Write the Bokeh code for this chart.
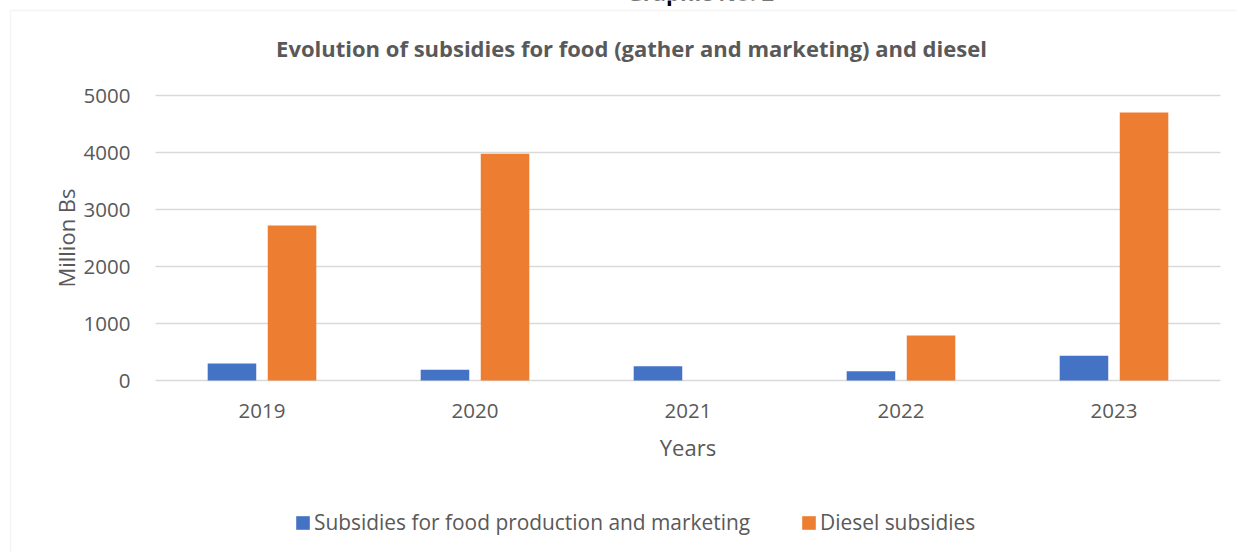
import numpy as np
from bokeh.plotting import figure
from bokeh.models import (Range1d, Legend, LegendItem, Label, BoxAnnotation,
                          ColumnDataSource, FixedTicker)
from bokeh.embed import file_html
from bokeh.resources import INLINE

years = ["2019", "2020", "2021", "2022", "2023"]
food = [300, 187, 251, 163, 433]
diesel = [2720, 3980, 0, 790, 4700]
y_ticks = [0, 1000, 2000, 3000, 4000, 5000]
series_names = ["Subsidies for food production and marketing", "Diesel subsidies"]
series_colors = ["#4472C4", "#ED7D31"]
chart_title = "Evolution of subsidies for food (gather and marketing) and diesel"
top_caption = "Graphic No. 2"
x_title = "Years"
y_title = "Million Bs"

FONT = "Open Sans"
TXT = "#595959"
GRID = "#d9d9d9"

# pixel geometry of the plot area inside the full canvas
W, H = 1237, 552
FL, FR, FT, FB = 155, 1220, 95, 380
ppu_x = (FR - FL) / len(years)
ppu_y = (FB - FT) / float(y_ticks[-1])
def ux(px):
    return (px - FL) / ppu_x
def uy(py):
    return (FB - py) / ppu_y

xpos = np.arange(len(years)) + 0.5
bw = 0.228
off = 0.141

src = ColumnDataSource(dict(x_food=xpos - off, x_diesel=xpos + off,
                            food=food, diesel=diesel))

p = figure(width=W, height=H, x_range=Range1d(ux(0), ux(W)),
           y_range=Range1d(uy(H), uy(0)), output_backend="svg",
           toolbar_location=None, min_border=0, min_border_left=0,
           min_border_right=0, min_border_top=0, min_border_bottom=0)
p.outline_line_color = None
p.background_fill_color = "white"
p.border_fill_color = "white"
p.xgrid.visible = False
p.ygrid.visible = False

# gridlines of the value axis
p.segment(x0=[0] * len(y_ticks), x1=[len(years)] * len(y_ticks),
          y0=y_ticks, y1=y_ticks, line_color=GRID, line_width=1.3)

r1 = p.vbar(x="x_food", top="food", width=bw, source=src,
            fill_color=series_colors[0], line_color=None)
r2 = p.vbar(x="x_diesel", top="diesel", width=bw, source=src,
            fill_color=series_colors[1], line_color=None)

for ax in (p.xaxis[0], p.yaxis[0]):
    ax.axis_line_color = None
    ax.major_tick_line_color = None
    ax.minor_tick_line_color = None
    ax.major_label_text_font = FONT
    ax.major_label_text_font_size = "20.5px"
    ax.major_label_text_color = TXT
    ax.axis_label_text_font = FONT
    ax.axis_label_text_font_size = "22px"
    ax.axis_label_text_font_style = "normal"
    ax.axis_label_text_color = TXT

p.yaxis.fixed_location = 0
p.yaxis.bounds = (y_ticks[0], y_ticks[-1])
p.yaxis.ticker = FixedTicker(ticks=y_ticks)
p.yaxis.major_label_standoff = 19
p.yaxis.axis_label = y_title
p.yaxis.axis_label_standoff = 0

p.xaxis.fixed_location = 0
p.xaxis.bounds = (0, len(years))
p.xaxis.ticker = FixedTicker(ticks=list(xpos))
p.xaxis.major_label_overrides = {float(x): y for x, y in zip(xpos, years)}
p.xaxis.major_label_standoff = 17
p.xaxis.axis_label = x_title
p.xaxis.axis_label_standoff = 11

# chart-area border
p.add_layout(BoxAnnotation(left=ux(10), right=ux(W + 40), top=uy(10),
                           bottom=uy(H + 40), fill_alpha=0, line_color=GRID,
                           line_width=1.3))

p.add_layout(Label(x=ux(631), y=uy(47), text=chart_title, text_align="center",
                   text_baseline="middle", text_font=FONT, text_font_size="22px",
                   text_font_style="bold", text_color=TXT))
p.add_layout(Label(x=ux(700), y=uy(-9), text=top_caption, text_align="center",
                   text_baseline="alphabetic", text_font=FONT,
                   text_font_size="22px", text_font_style="bold",
                   text_color="#000000"))

legend = Legend(items=[LegendItem(label=series_names[0], renderers=[r1]),
                       LegendItem(label=series_names[1], renderers=[r2])],
                orientation="horizontal", location=(294, H - 536),
                padding=0, margin=0, spacing=50, label_standoff=3,
                glyph_width=17, glyph_height=17,
                label_text_font=FONT, label_text_font_size="20.9px",
                label_text_color=TXT, border_line_color=None,
                background_fill_alpha=0)
p.add_layout(legend)

open("out.html", "w").write(file_html(p, INLINE))
